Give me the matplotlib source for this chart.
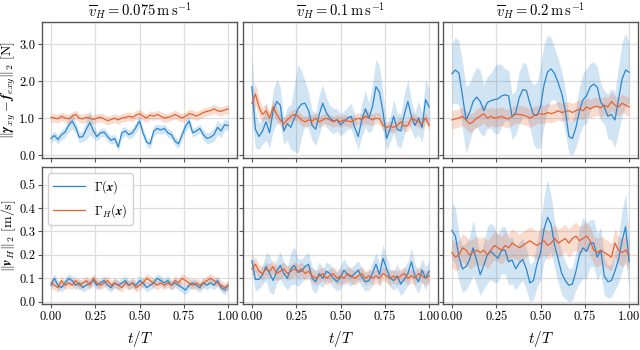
import numpy as np
import matplotlib
matplotlib.use("Agg")
import matplotlib.pyplot as plt

plt.rcParams['font.family'] = 'serif'
plt.rcParams['font.serif'] = ['cmr10', 'DejaVu Serif']
plt.rcParams['mathtext.fontset'] = 'cm'
plt.rcParams['axes.formatter.use_mathtext'] = True

t = np.linspace(0, 1, 51)

# ---- top row: force error [N] ----
tl_blue = [0.45, 0.53, 0.42, 0.55, 0.62, 0.80, 0.92, 0.75, 0.48, 0.50, 0.70, 0.88, 0.65, 0.50, 0.60, 0.62, 0.50,
           0.40, 0.45, 0.22, 0.60, 0.65, 0.55, 0.60, 0.75, 0.92, 0.60, 0.35, 0.30, 0.65, 0.72, 0.68, 0.72, 0.60,
           0.55, 0.38, 0.30, 0.55, 0.78, 0.92, 0.60, 0.65, 0.72, 0.55, 0.45, 0.48, 0.55, 0.75, 0.65, 0.82, 0.80]
tl_blue_sd = [0.12, 0.12, 0.12, 0.14, 0.15, 0.18, 0.22, 0.15, 0.14, 0.15, 0.28, 0.35, 0.18, 0.12, 0.12, 0.12, 0.12,
              0.12, 0.12, 0.12, 0.14, 0.12, 0.12, 0.12, 0.15, 0.15, 0.12, 0.12, 0.12, 0.14, 0.12, 0.12, 0.12, 0.12,
              0.12, 0.12, 0.12, 0.14, 0.15, 0.15, 0.12, 0.12, 0.12, 0.14, 0.15, 0.15, 0.18, 0.20, 0.18, 0.15, 0.12]
tl_orange = [1.02, 1.00, 0.98, 1.05, 1.00, 0.98, 1.05, 1.10, 1.00, 0.98, 1.02, 1.00, 0.96, 1.00, 1.02, 0.98, 0.93,
             0.96, 1.00, 0.95, 1.00, 1.02, 1.05, 1.02, 1.08, 1.12, 1.05, 1.00, 1.08, 1.05, 1.10, 1.05, 1.00, 1.02,
             1.05, 1.10, 1.05, 1.00, 1.05, 1.12, 1.10, 1.05, 1.10, 1.15, 1.18, 1.20, 1.25, 1.20, 1.18, 1.22, 1.25]
tl_orange_sd = [0.12] * 51

tm_blue = [1.85, 0.70, 0.50, 0.65, 0.90, 0.60, 1.20, 1.45, 1.35, 0.65, 0.85, 0.75, 1.00, 1.25, 1.38, 1.40, 1.20,
           0.80, 0.70, 1.10, 1.40, 1.15, 1.00, 0.92, 0.95, 0.82, 0.90, 1.00, 1.05, 0.75, 0.50, 0.95, 1.25, 1.00,
           1.30, 1.85, 1.70, 1.15, 0.45, 0.70, 1.05, 0.70, 0.65, 1.10, 1.45, 1.05, 0.80, 1.00, 0.75, 1.50, 1.30]
tm_blue_sd = [0.90, 0.50, 0.35, 0.35, 0.50, 0.40, 0.55, 0.60, 0.50, 0.35, 0.45, 0.60, 0.90, 1.20, 0.90, 0.60, 0.50,
              0.40, 0.45, 0.55, 0.50, 0.40, 0.35, 0.35, 0.30, 0.30, 0.30, 0.30, 0.35, 0.35, 0.35, 0.45, 0.50, 0.40,
              0.60, 0.75, 0.70, 0.50, 0.35, 0.35, 0.45, 0.45, 0.45, 0.55, 0.60, 0.40, 0.35, 0.45, 0.40, 0.55, 0.50]
tm_orange = [1.40, 1.65, 1.30, 1.10, 1.20, 1.00, 1.30, 1.10, 0.95, 0.85, 0.95, 1.05, 1.10, 1.05, 0.95, 0.90, 0.95,
             0.92, 1.00, 0.90, 0.95, 1.00, 0.95, 0.90, 0.95, 0.90, 0.95, 0.92, 0.90, 0.95, 1.00, 0.95, 1.05, 1.00,
             0.95, 1.00, 0.98, 0.80, 0.75, 0.78, 0.75, 0.80, 0.90, 0.78, 0.80, 1.00, 0.95, 0.90, 0.85, 1.00, 0.80]
tm_orange_sd = [0.30, 0.30, 0.25, 0.20, 0.20, 0.18, 0.20, 0.18, 0.15, 0.15, 0.15, 0.15, 0.15, 0.15, 0.15, 0.15, 0.15,
                0.15, 0.15, 0.15, 0.15, 0.15, 0.15, 0.15, 0.15, 0.15, 0.15, 0.15, 0.15, 0.15, 0.15, 0.15, 0.20, 0.18,
                0.15, 0.15, 0.15, 0.15, 0.15, 0.15, 0.15, 0.15, 0.15, 0.15, 0.15, 0.15, 0.15, 0.15, 0.15, 0.15, 0.15]

tr_blue = [2.20, 2.30, 2.22, 1.60, 0.95, 1.15, 1.45, 1.57, 1.45, 1.20, 1.42, 1.47, 1.50, 1.52, 1.60, 1.63, 1.60,
           1.03, 1.15, 1.55, 1.77, 1.75, 1.40, 1.10, 1.07, 1.30, 1.90, 2.25, 2.33, 2.20, 1.95, 1.66, 1.20, 0.50,
           0.45, 0.75, 1.20, 1.50, 1.60, 1.84, 1.92, 1.84, 1.43, 1.30, 1.05, 1.10, 0.95, 1.50, 2.05, 2.30, 2.24]
tr_blue_sd = [0.80, 0.90, 0.85, 0.90, 0.90, 0.80, 0.75, 0.80, 0.85, 0.70, 0.70, 0.75, 0.90, 0.95, 0.85, 0.70, 0.70,
              0.60, 0.60, 0.70, 0.75, 0.70, 0.65, 0.80, 0.90, 1.10, 1.10, 1.00, 0.85, 0.70, 0.65, 0.60, 0.60, 0.45,
              0.45, 0.55, 0.65, 0.70, 0.75, 0.65, 0.60, 0.55, 0.50, 0.45, 0.60, 0.70, 0.75, 0.90, 1.00, 1.00, 0.80]
tr_orange = [0.95, 0.98, 1.00, 1.05, 0.95, 0.85, 0.90, 1.00, 1.05, 1.12, 1.00, 1.05, 1.00, 1.02, 1.05, 1.00, 0.98,
             1.05, 1.10, 1.10, 1.08, 1.05, 1.00, 1.05, 1.10, 1.12, 1.10, 1.15, 1.12, 1.15, 1.20, 1.15, 1.18, 1.20,
             1.15, 1.20, 1.25, 1.20, 1.30, 1.25, 1.30, 1.32, 1.28, 1.35, 1.30, 1.45, 1.35, 1.30, 1.40, 1.35, 1.30]
tr_orange_sd = [0.25] * 51

# ---- bottom row: velocity [m/s] ----
bl_blue = [0.07, 0.10, 0.07, 0.06, 0.08, 0.10, 0.09, 0.07, 0.08, 0.06, 0.07, 0.08, 0.09, 0.07, 0.08, 0.09, 0.07,
           0.06, 0.08, 0.07, 0.08, 0.09, 0.07, 0.08, 0.07, 0.09, 0.08, 0.06, 0.07, 0.08, 0.10, 0.09, 0.08, 0.09,
           0.07, 0.08, 0.07, 0.06, 0.05, 0.07, 0.08, 0.07, 0.06, 0.08, 0.07, 0.08, 0.07, 0.09, 0.06, 0.05, 0.07]
bl_blue_sd = [0.02] * 51
bl_orange = [0.08, 0.07, 0.06, 0.09, 0.07, 0.08, 0.07, 0.09, 0.07, 0.08, 0.09, 0.07, 0.10, 0.08, 0.07, 0.08, 0.09,
             0.07, 0.08, 0.07, 0.06, 0.08, 0.07, 0.08, 0.06, 0.07, 0.08, 0.10, 0.09, 0.08, 0.07, 0.08, 0.07, 0.08,
             0.07, 0.09, 0.08, 0.10, 0.09, 0.08, 0.07, 0.08, 0.07, 0.08, 0.09, 0.10, 0.09, 0.08, 0.07, 0.06, 0.07]
bl_orange_sd = [0.02] * 51

bm_blue = [0.175, 0.095, 0.095, 0.115, 0.150, 0.120, 0.090, 0.130, 0.155, 0.120, 0.100, 0.140, 0.155, 0.125,
           0.130, 0.150, 0.160, 0.100, 0.085, 0.120, 0.100, 0.130, 0.120, 0.100, 0.085, 0.105, 0.135, 0.115,
           0.105, 0.120, 0.135, 0.105, 0.085, 0.090, 0.120, 0.160, 0.115, 0.185, 0.140, 0.100, 0.090, 0.110,
           0.075, 0.095, 0.120, 0.170, 0.110, 0.085, 0.135, 0.100, 0.130]
bm_blue_sd = [0.05, 0.05, 0.04, 0.04, 0.06, 0.08, 0.06, 0.05, 0.06, 0.05, 0.05, 0.07, 0.08, 0.06, 0.05, 0.05, 0.05,
              0.05, 0.05, 0.05, 0.04, 0.04, 0.04, 0.04, 0.04, 0.05, 0.05, 0.04, 0.04, 0.04, 0.04, 0.04, 0.04, 0.04,
              0.05, 0.05, 0.05, 0.06, 0.05, 0.04, 0.04, 0.05, 0.05, 0.05, 0.05, 0.06, 0.05, 0.05, 0.05, 0.05, 0.04]
bm_orange = [0.14, 0.16, 0.13, 0.12, 0.14, 0.13, 0.15, 0.12, 0.13, 0.14, 0.12, 0.13, 0.14, 0.13, 0.14, 0.12, 0.13,
             0.11, 0.10, 0.11, 0.12, 0.10, 0.11, 0.12, 0.10, 0.11, 0.10, 0.12, 0.11, 0.10, 0.11, 0.12, 0.10, 0.11,
             0.10, 0.11, 0.10, 0.12, 0.11, 0.10, 0.11, 0.10, 0.11, 0.12, 0.10, 0.11, 0.10, 0.12, 0.11, 0.10, 0.11]
bm_orange_sd = [0.03] * 51

br_blue = [0.305, 0.280, 0.190, 0.140, 0.150, 0.180, 0.230, 0.175, 0.115, 0.155, 0.200, 0.215, 0.200, 0.185,
           0.220, 0.220, 0.170, 0.178, 0.140, 0.165, 0.180, 0.140, 0.080, 0.090, 0.160, 0.210, 0.310, 0.360,
           0.330, 0.240, 0.180, 0.120, 0.090, 0.070, 0.075, 0.130, 0.200, 0.230, 0.215, 0.250, 0.250, 0.190,
           0.220, 0.110, 0.085, 0.090, 0.130, 0.180, 0.260, 0.320, 0.170]
br_blue_sd = [0.12, 0.12, 0.10, 0.10, 0.10, 0.10, 0.12, 0.10, 0.09, 0.10, 0.12, 0.12, 0.12, 0.10, 0.10, 0.10, 0.10,
              0.10, 0.09, 0.09, 0.09, 0.09, 0.08, 0.08, 0.10, 0.12, 0.14, 0.16, 0.12, 0.10, 0.10, 0.09, 0.08, 0.07,
              0.07, 0.08, 0.12, 0.13, 0.12, 0.10, 0.10, 0.10, 0.10, 0.08, 0.07, 0.07, 0.08, 0.10, 0.13, 0.14, 0.12]
br_orange = [0.21, 0.19, 0.20, 0.23, 0.22, 0.20, 0.21, 0.22, 0.21, 0.22, 0.20, 0.22, 0.24, 0.23, 0.22, 0.24, 0.23,
             0.25, 0.24, 0.23, 0.24, 0.25, 0.26, 0.25, 0.24, 0.25, 0.26, 0.24, 0.25, 0.27, 0.25, 0.26, 0.27, 0.25,
             0.27, 0.28, 0.26, 0.27, 0.28, 0.26, 0.22, 0.21, 0.22, 0.21, 0.20, 0.19, 0.25, 0.22, 0.21, 0.22, 0.20]
br_orange_sd = [0.06] * 51

titles = [r'$\overline{v}_H = 0.075\,\mathrm{m\,s^{-1}}$',
          r'$\overline{v}_H = 0.1\,\mathrm{m\,s^{-1}}$',
          r'$\overline{v}_H = 0.2\,\mathrm{m\,s^{-1}}$']
ylabel_top = r'$\Vert\boldsymbol{\gamma}_{xy} - \boldsymbol{f}_{exy}\Vert_2$ [N]'
ylabel_bot = r'$\Vert\boldsymbol{v}_H\Vert_2$ [m/s]'
legend_labels = [r'$\boldsymbol{\Gamma}(\boldsymbol{x})$', r'$\boldsymbol{\Gamma}_H(\boldsymbol{x})$']
xticks = [0.0, 0.25, 0.5, 0.75, 1.0]
yticks_top = [0.0, 1.0, 2.0, 3.0]
yticks_bot = [0.0, 0.1, 0.2, 0.3, 0.4, 0.5]

BLUE = '#2a87cf'
ORANGE = '#e8622d'

data = [
    [(tl_blue, tl_blue_sd, tl_orange, tl_orange_sd), (tm_blue, tm_blue_sd, tm_orange, tm_orange_sd),
     (tr_blue, tr_blue_sd, tr_orange, tr_orange_sd)],
    [(bl_blue, bl_blue_sd, bl_orange, bl_orange_sd), (bm_blue, bm_blue_sd, bm_orange, bm_orange_sd),
     (br_blue, br_blue_sd, br_orange, br_orange_sd)],
]

fig = plt.figure(figsize=(6.4, 3.5), dpi=100)
lefts = [42 / 640, 243 / 640, 443 / 640]
w = 195 / 640
bottoms = [1 - 158 / 350, 1 - 304 / 350]
hs = [136 / 350, 137 / 350]

for r in range(2):
    for c in range(3):
        ax = fig.add_axes([lefts[c], bottoms[r], w, hs[r]])
        b, bsd, o, osd = [np.array(a) for a in data[r][c]]
        ax.fill_between(t, b - bsd, b + bsd, color=BLUE, alpha=0.22, lw=0)
        ax.fill_between(t, o - osd, o + osd, color=ORANGE, alpha=0.22, lw=0)
        lb, = ax.plot(t, b, color=BLUE, lw=0.9)
        lo, = ax.plot(t, o, color=ORANGE, lw=0.9)
        ax.set_xlim(-0.05, 1.05)
        ax.set_xticks(xticks)
        if r == 0:
            ax.set_ylim(-0.08, 3.6)
            ax.set_yticks(yticks_top)
            ax.set_title(titles[c], fontsize=10.5, pad=4)
            ax.set_xticklabels([])
        else:
            ax.set_ylim(-0.01, 0.575)
            ax.set_yticks(yticks_bot)
            ax.set_xticklabels(['0.00', '0.25', '0.50', '0.75', '1.00'])
            ax.set_xlabel(r'$t/T$', fontsize=11)
        if c == 0:
            if r == 0:
                ax.set_yticklabels(['0.0', '1.0', '2.0', '3.0'])
                ax.set_ylabel(ylabel_top, fontsize=10)
            else:
                ax.set_yticklabels(['0.0', '0.1', '0.2', '0.3', '0.4', '0.5'])
                ax.set_ylabel(ylabel_bot, fontsize=10)
                ax.legend([lb, lo], legend_labels, loc='upper left', fontsize=9,
                          frameon=True, framealpha=0.9, edgecolor='#cccccc', fancybox=True,
                          handlelength=2.5)
            ax.yaxis.set_label_coords(-0.125, 0.5)
        else:
            ax.set_yticklabels([])
        ax.grid(True, color='#dddddd', lw=0.9)
        ax.set_axisbelow(True)
        for s in ax.spines.values():
            s.set_color('#555555')
            s.set_linewidth(1.0)
        ax.tick_params(labelsize=9, length=3, width=0.8, color='#555555', pad=2)

fig.savefig('out.png', dpi=100)
